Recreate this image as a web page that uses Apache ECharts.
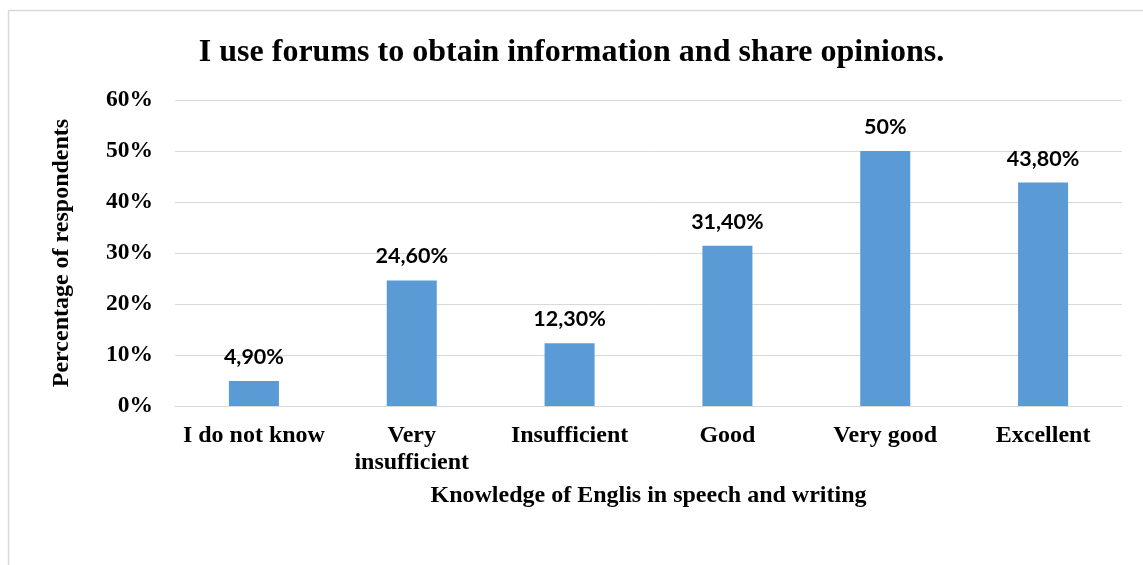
<!DOCTYPE html>
<html><head><meta charset="utf-8">
<script src="https://cdn.jsdelivr.net/npm/echarts@6/dist/echarts.min.js"></script>
<style>html,body{margin:0;padding:0;background:#fff}#c{width:1143px;height:565px}</style>
</head><body><div id="c"></div>
<script>
const categories = ['I do not know', 'Very\ninsufficient', 'Insufficient', 'Good', 'Very good', 'Excellent'];
const values = [4.9, 24.6, 12.3, 31.4, 50, 43.8];
const valueLabels = ['4,90%', '24,60%', '12,30%', '31,40%', '50%', '43,80%'];
const yTicks = [0, 10, 20, 30, 40, 50, 60];

const serif = '"Liberation Serif", "Times New Roman", serif';
const chart = echarts.init(document.getElementById('c'));
chart.setOption({
  animation: false,
  backgroundColor: '#fff',
  graphic: [{
    type: 'rect', shape: {x: 8.5, y: 10.5, width: 1160, height: 600},
    style: {fill: 'none', stroke: '#d9d9d9', lineWidth: 1.5}, silent: true
  }],
  title: {
    text: 'I use forums to obtain information and share opinions.',
    left: 'center', top: 32,
    textStyle: {fontFamily: serif, fontWeight: 'bold', fontSize: 32, color: '#000'}
  },
  grid: {left: 175, right: 21, top: 100, bottom: 159},
  xAxis: {
    type: 'category', data: categories,
    axisLine: {lineStyle: {color: '#d9d9d9', width: 1}},
    axisTick: {show: false},
    axisLabel: {interval: 0, hideOverlap: false, fontFamily: serif, fontWeight: 'bold', fontSize: 24, color: '#000', margin: 16, lineHeight: 27},
    name: 'Knowledge of Englis in speech and writing',
    nameLocation: 'middle', nameGap: 78,
    nameTextStyle: {fontFamily: serif, fontWeight: 'bold', fontSize: 24, color: '#000'}
  },
  yAxis: {
    type: 'value', min: 0, max: 60, interval: 10,
    axisLine: {show: false}, axisTick: {show: false},
    splitLine: {lineStyle: {color: '#d9d9d9', width: 1}},
    axisLabel: {
      fontFamily: serif, fontWeight: 'bold', fontSize: 23.5, color: '#000', margin: 22,
      formatter: v => yTicks.includes(v) ? v + '%' : ''
    },
    name: 'Percentage of respondents',
    nameLocation: 'middle', nameGap: 101, nameRotate: 90,
    nameTextStyle: {fontFamily: serif, fontWeight: 'bold', fontSize: 24, color: '#000'}
  },
  series: [{
    type: 'bar', data: values, barWidth: '31.7%',
    itemStyle: {color: '#5b9bd5'},
    label: {
      show: true, position: 'top', distance: 13,
      fontFamily: 'Lato, "Open Sans", sans-serif', fontWeight: 'bold', fontSize: 21.5, color: '#000',
      formatter: p => valueLabels[p.dataIndex]
    }
  }]
});
</script></body></html>
